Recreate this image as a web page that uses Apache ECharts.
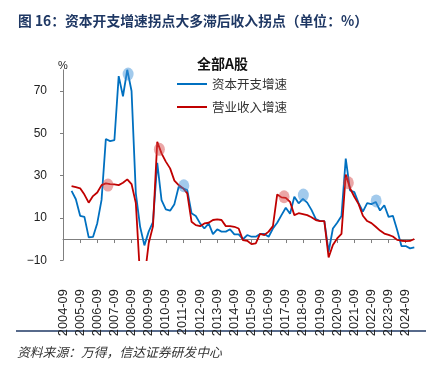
<!DOCTYPE html>
<html>
<head>
<meta charset="utf-8">
<script src="https://cdn.jsdelivr.net/npm/echarts@6/dist/echarts.min.js"></script>
<style>
html,body{margin:0;padding:0;background:#fff;}
#chart{width:439px;height:368px;}
</style>
</head>
<body>
<div id="chart"></div>
<script>
var categories = [
'2004-09','2004-12','2005-03','2005-06','2005-09','2005-12','2006-03','2006-06',
'2006-09','2006-12','2007-03','2007-06','2007-09','2007-12','2008-03','2008-06',
'2008-09','2008-12','2009-03','2009-06','2009-09','2009-12','2010-03','2010-06',
'2010-09','2010-12','2011-03','2011-06','2011-09','2011-12','2012-03','2012-06',
'2012-09','2012-12','2013-03','2013-06','2013-09','2013-12','2014-03','2014-06',
'2014-09','2014-12','2015-03','2015-06','2015-09','2015-12','2016-03','2016-06',
'2016-09','2016-12','2017-03','2017-06','2017-09','2017-12','2018-03','2018-06',
'2018-09','2018-12','2019-03','2019-06','2019-09','2019-12','2020-03','2020-06',
'2020-09','2020-12','2021-03','2021-06','2021-09','2021-12','2022-03','2022-06',
'2022-09','2022-12','2023-03','2023-06','2023-09','2023-12','2024-03','2024-06',
'2024-09','2024-12','2025-03'
];

// 资本开支增速 (%)
var capexGrowth = [
null, null, 22.8, 18.8, 11.0, 10.5, 0.8, 1.0,
7.5, 18.5, 47.3, 46.3, 46.8, 77.0, 67.5, 80.0,
70.0, 21.6, 5.8, -3.0, 3.5, 8.0, 36.0, 18.4,
14.0, 13.4, 16.5, 24.7, 24.0, 23.2, 12.2, 10.9,
7.4, 5.0, 7.4, 2.3, 4.6, 3.5, 3.5, 4.6,
2.2, 2.2, -0.1, 1.9, 1.1, 1.1, 2.4, 2.4,
1.1, 5.0, 7.7, 11.3, 14.8, 12.0, 20.0, 16.9,
19.0, 17.2, 13.8, 9.5, 8.5, 8.5, -6.0, 5.0,
7.7, 10.9, 38.0, 23.0, 22.2, 17.0, 13.0, 17.0,
16.5, 17.5, 13.5, 16.0, 10.5, 11.0, 4.3, -3.3,
-3.3, -4.4, -3.9
];

// 营业收入增速 (%)
var revenueGrowth = [
null, null, 25.0, 24.5, 24.0, 21.0, 17.2, 20.3,
22.0, 25.5, 26.3, 26.0, 25.8, 25.5, 26.6, 28.2,
26.0, 17.0, -18.0, -19.0, -2.0, 6.0, 46.0, 40.5,
36.6, 33.4, 27.6, 25.5, 24.0, 21.6, 8.2, 6.6,
6.1, 7.4, 7.7, 9.0, 9.3, 9.0, 6.1, 6.1,
5.8, 5.0, -0.5, -0.8, -2.4, -2.0, 2.4, 1.9,
3.5, 6.1, 21.1, 19.7, 19.5, 17.6, 11.3, 12.2,
11.8, 11.3, 10.3, 9.0, 8.5, 8.5, -8.7, -2.8,
0.3, 2.4, 30.5, 24.0, 20.0, 16.5, 11.0, 8.5,
7.5, 5.8, 4.0, 2.6, 2.0, 1.2, -0.4, -0.8,
-1.0, -0.9, 0.0
];

// 拐点标记: [季度序号(自2004-09起), 数值]
var revenueTurnPoints = [[10.5, 25.5], [22.5, 42.4], [51.6, 20.0], [66.6, 26.6]];
var capexTurnPoints = [[15.2, 78.0], [28.2, 25.2], [56.1, 20.8], [73.1, 18.0]];

var yTicks = [-10, 10, 30, 50, 70];

var seriesNames = ['资本开支增速', '营业收入增速'];

var chart = echarts.init(document.getElementById('chart'), null, {renderer: 'canvas'});
var axisColor = '#7f7f7f';
var option = {
  animation: false,
  backgroundColor: '#ffffff',
  grid: {left: 63, right: 24.7, top: 69.8, bottom: 107.8, containLabel: false},
  legend: {
    data: seriesNames,
    orient: 'vertical',
    left: 172,
    top: 72,
    icon: 'rect',
    itemWidth: 30,
    itemHeight: 2,
    itemGap: 9,
    textStyle: {fontFamily: 'Noto Sans CJK SC', fontSize: 12.5, lineHeight: 14, color: '#333333'}
  },
  xAxis: [{
    type: 'category',
    data: categories,
    boundaryGap: false,
    axisLine: {onZero: true, lineStyle: {color: axisColor, width: 1}},
    axisTick: {show: true, interval: 3, length: 4, lineStyle: {color: axisColor}},
    axisLabel: {
      interval: 3, rotate: 90, margin: 29,
      fontFamily: 'Liberation Sans', fontSize: 12.8, color: '#222222'
    },
    splitLine: {show: false}
  }, {
    type: 'value',
    min: 0,
    max: categories.length - 1,
    show: false,
    axisLine: {onZero: false}
  }],
  yAxis: {
    type: 'value',
    min: -10,
    max: 80,
    interval: 20,
    name: '%',
    nameLocation: 'end',
    nameGap: -2,
    nameTextStyle: {fontFamily: 'Liberation Sans', fontSize: 11, color: '#222222'},
    axisLine: {show: true, onZero: false, lineStyle: {color: axisColor, width: 1}},
    axisTick: {show: true, length: 3, customValues: yTicks, lineStyle: {color: axisColor}},
    axisLabel: {
      customValues: yTicks,
      margin: 16,
      fontFamily: 'Liberation Sans', fontSize: 12, color: '#222222',
      formatter: function (v) { return v < 0 ? '\u2212' + Math.abs(v) : String(v); }
    },
    splitLine: {show: false}
  },
  series: [{
    name: seriesNames[0],
    type: 'line',
    data: capexGrowth,
    symbol: 'none',
    showSymbol: false,
    lineStyle: {color: '#0070c0', width: 1.8},
    itemStyle: {color: '#0070c0'},
    z: 2
  }, {
    name: seriesNames[1],
    type: 'line',
    data: revenueGrowth,
    symbol: 'none',
    showSymbol: false,
    lineStyle: {color: '#c00000', width: 1.8},
    itemStyle: {color: '#c00000'},
    z: 3
  }, {
    name: 'rev-turn',
    type: 'scatter',
    xAxisIndex: 1,
    data: revenueTurnPoints,
    symbol: 'circle',
    symbolSize: [11, 13],
    itemStyle: {color: 'rgba(214,70,70,0.6)'},
    z: 4
  }, {
    name: 'capex-turn',
    type: 'scatter',
    xAxisIndex: 1,
    data: capexTurnPoints,
    symbol: 'circle',
    symbolSize: [11, 13],
    itemStyle: {color: 'rgba(60,145,215,0.6)'},
    z: 4
  }],
  graphic: [{
    type: 'text',
    left: 18,
    top: 13.5,
    style: {
      text: '图 16：资本开支增速拐点大多滞后收入拐点（单位：%）',
      font: 'bold 13.8px "Noto Sans CJK SC"',
      fill: '#1f3864'
    }
  }, {
    type: 'text',
    left: 197,
    top: 56.5,
    style: {
      text: '全部A股',
      font: 'bold 14px "Noto Sans CJK SC"',
      fill: '#111111'
    }
  }, {
    type: 'line',
    shape: {x1: 16, y1: 331, x2: 426, y2: 331},
    style: {stroke: '#1f3864', lineWidth: 1.5}
  }, {
    type: 'text',
    left: 17,
    top: 345.5,
    style: {
      text: '资料来源：万得，信达证券研发中心',
      font: 'italic 12.8px "Noto Sans CJK SC"',
      fill: '#333333'
    }
  }]
};
chart.setOption(option);
</script>
</body>
</html>
